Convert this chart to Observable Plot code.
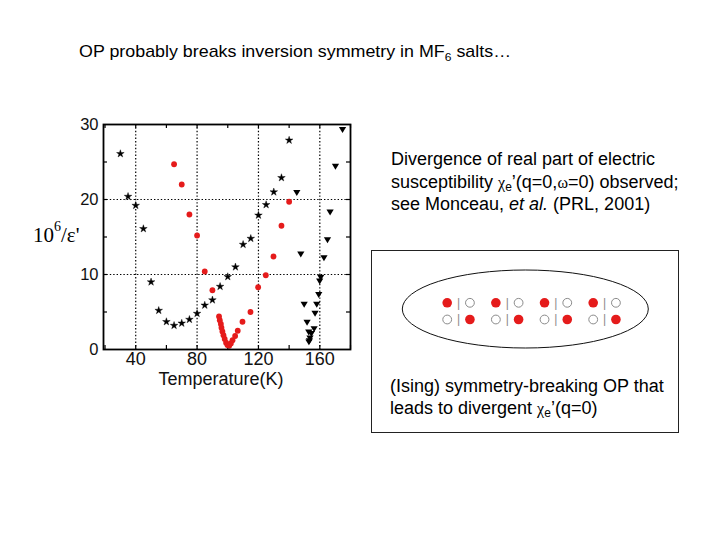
<!DOCTYPE html>
<html>
<head>
<meta charset="utf-8">
<script src="https://cdn.jsdelivr.net/npm/d3@7"></script>
<script src="https://cdn.jsdelivr.net/npm/@observablehq/plot@0.6"></script>
<style>
  html, body { margin: 0; padding: 0; background: #fff; }
  #page { position: relative; width: 720px; height: 540px; overflow: hidden; background: #fff;
          font-family: "Liberation Sans", Arial, sans-serif; }
  #page > svg { position: absolute; }
</style>
</head>
<body>
<div id="page"></div>
<script>
// ---- Temperature scans of 10^6/ε' ----
// black stars
const starT = [30, 35, 40, 45, 50, 55, 60, 65, 70, 75, 80, 85, 90, 95, 100, 105, 110, 115, 120, 125, 130, 135, 140];
const starV = [26.1, 20.4, 19.2, 16.1, 9.0, 5.2, 3.7, 3.2, 3.5, 4.0, 4.8, 5.9, 6.6, 8.4, 9.7, 11.0, 14.0, 14.8, 17.9, 19.3, 21.0, 22.9, 27.9];
// red circles
const circT = [65, 70, 75, 80, 85, 90, 94.3, 94.8, 95.5, 95.9, 96.5, 97.2, 98.0, 98.9, 99.8, 100.9, 102.0, 103.1, 104.8, 106.5, 109.6, 114.8, 119.8, 124.8, 129.8, 135, 140];
const circV = [24.7, 22.0, 18.0, 15.2, 10.4, 7.9, 4.4, 3.9, 3.4, 2.9, 2.4, 1.9, 1.4, 0.9, 0.6, 0.5, 0.8, 1.25, 1.8, 2.5, 3.7, 5.0, 8.3, 9.9, 12.4, 16.5, 19.7];
// black down-triangles
const triT = [174.8, 170.2, 145.0, 166.7, 165.0, 147.6, 162.7, 160.6, 159.9, 159.3, 149.8, 158.0, 156.9, 151.7, 156.3, 152.8, 154.5, 153.6, 153.2, 152.9];
const triV = [29.4, 24.5, 21.0, 18.4, 14.7, 12.8, 12.3, 9.7, 9.2, 7.4, 6.1, 6.1, 4.9, 3.7, 2.85, 2.4, 2.2, 1.6, 1.25, 1.07];

// axes
const xTickValues = [40, 80, 120, 160];
const yTickValues = [0, 10, 20, 30];
const xGridValues = [40, 80, 120, 160];
const yGridValues = [10, 20];
const xMinorTicks = [20, 40, 60, 80, 100, 120, 140, 160, 180];
const yMinorTicks = [5, 10, 15, 20, 25];
const xLabel = "Temperature(K)";

// ---- dimer schematic: each row is a chain of 4 pairs; each pair has a left and right site ----
const pairIndex = [0, 1, 2, 3];
const topRowSites = ["filled", "open"];
const bottomRowSites = ["open", "filled"];

const RED = "#e51b1b";

const rows = (T, V) => T.map((t, i) => ({t, v: V[i]}));
const stars = rows(starT, starV);
const circles = rows(circT, circV);
const tris = rows(triT, triV);

// downward-pointing triangle symbol
const triangleDown = {
  draw(context, size) {
    const s = Math.sqrt(size);
    const w = 0.68 * s, h = 1.1 * s;
    context.moveTo(-w, -h / 3);
    context.lineTo(w, -h / 3);
    context.lineTo(0, 2 * h / 3);
    context.closePath();
  }
};

const page = document.getElementById("page");

const chart = Plot.plot({
  width: 350,
  height: 300,
  marginLeft: 83,
  marginRight: 20,
  marginTop: 24,
  marginBottom: 51,
  x: {domain: [19, 180]},
  y: {domain: [0, 30]},
  style: {fontFamily: "'Liberation Sans', Arial, sans-serif", fontSize: "18px", color: "#111", background: "transparent", overflow: "visible"},
  marks: [
    Plot.gridX(xGridValues, {stroke: "#000", strokeOpacity: 1, strokeWidth: 1.2, strokeDasharray: "1.4,2"}),
    Plot.gridY(yGridValues, {stroke: "#000", strokeOpacity: 1, strokeWidth: 1.2, strokeDasharray: "1.4,2"}),
    // inward ticks on all four sides
    Plot.ruleX(xMinorTicks, {stroke: "#000", strokeWidth: 1.2, insetTop: 221}),
    Plot.ruleX(xMinorTicks, {stroke: "#000", strokeWidth: 1.2, insetBottom: 221}),
    Plot.ruleY(yMinorTicks, {stroke: "#000", strokeWidth: 1.2, insetRight: 243}),
    Plot.ruleY(yMinorTicks, {stroke: "#000", strokeWidth: 1.2, insetLeft: 243}),
    Plot.dot(stars, {x: "t", y: "v", symbol: "star", r: 2.4, fill: "#000", stroke: "#000", strokeWidth: 0.4}),
    Plot.dot(circles, {x: "t", y: "v", r: 2.9, fill: RED, stroke: "none"}),
    Plot.dot(tris, {x: "t", y: "v", symbol: triangleDown, r: 3, fill: "#000", stroke: "none"}),
    Plot.frame({stroke: "#000", strokeWidth: 1.8}),
    Plot.axisX(xTickValues, {tickSize: 0, tickPadding: 3, label: null, fontSize: 18}),
    Plot.axisY(yTickValues, {tickSize: 0, tickPadding: 5, label: null, fontSize: 16.5}),
    Plot.text([xLabel], {text: d => d, frameAnchor: "bottom", lineAnchor: "middle", dy: 30, dx: -6, fontSize: 18})
  ]
});
chart.style.left = "20px";
chart.style.top = "100px";
page.appendChild(chart);

// schematic box
const sites = [];
for (const p of pairIndex) {
  topRowSites.forEach((state, side) => sites.push({pair: p, side, row: 0, state}));
  bottomRowSites.forEach((state, side) => sites.push({pair: p, side, row: 1, state}));
}
const bars = pairIndex.flatMap(p => [{pair: p, row: 0}, {pair: p, row: 1}]);
const siteX = d => d.pair + d.side * 0.467;

const schematic = Plot.plot({
  width: 306,
  height: 181,
  margin: 0,
  x: {domain: [0, 3], range: [74.7, 220.7], axis: null},
  y: {domain: [0, 1], range: [51.3, 68], axis: null},
  style: {background: "#fff", overflow: "visible"},
  marks: [
    () => {
      const e = d3.create("svg:ellipse")
        .attr("cx", 153.3).attr("cy", 58).attr("rx", 123).attr("ry", 39)
        .attr("fill", "none").attr("stroke", "#111").attr("stroke-width", 1);
      return e.node();
    },
    Plot.text(bars, {x: d => d.pair + 0.2335, y: "row", text: () => "|", fill: "#8a8a8a", fontSize: 12, fontFamily: "'Liberation Sans', Arial"}),
    Plot.dot(sites.filter(d => d.state === "open"), {x: siteX, y: "row", r: 4.4, fill: "#fff", stroke: "#8a8a8a", strokeWidth: 1}),
    Plot.dot(sites.filter(d => d.state === "filled"), {x: siteX, y: "row", r: 4.8, fill: RED, stroke: "none"})
  ]
});
schematic.style.left = "371px";
schematic.style.top = "250px";
schematic.style.border = "1px solid #222";
page.appendChild(schematic);

// annotation text
const overlay = d3.create("svg").attr("width", 720).attr("height", 540)
  .style("left", "0px").style("top", "0px").style("pointer-events", "none")
  .attr("font-family", "'Liberation Sans', Arial, sans-serif").attr("fill", "#000");

// heading
const title = overlay.append("text").attr("x", 79).attr("y", 56.5).attr("font-size", 17)
  .attr("textLength", 432).attr("lengthAdjust", "spacingAndGlyphs");
title.append("tspan").text("OP probably breaks inversion symmetry in MF");
title.append("tspan").attr("font-size", 11.5).attr("dy", 4).text("6");
title.append("tspan").attr("dy", -4).text(" salts\u2026");

// y-axis label 10^6/ε'
const ylab = overlay.append("text").attr("x", 33).attr("y", 242).attr("font-size", 21)
  .attr("font-family", "'Liberation Serif', 'Times New Roman', serif");
ylab.append("tspan").text("10");
ylab.append("tspan").attr("font-size", 14).attr("dy", -11).text("6");
ylab.append("tspan").attr("dy", 11).text("/\u03b5'");

const chi = (t) => {
  t.append("tspan").attr("font-family", "'Liberation Serif', 'DejaVu Serif', serif").attr("font-size", 16).text("\u03c7");
  t.append("tspan").attr("font-size", 12).attr("dy", 3).text("e");
  return t;
};

// right-hand note
const fs = 18;
const l1 = overlay.append("text").attr("x", 391).attr("y", 165).attr("font-size", fs);
l1.text("Divergence of real part of electric");
const l2 = overlay.append("text").attr("x", 391).attr("y", 187.5).attr("font-size", fs);
l2.append("tspan").text("susceptibility ");
chi(l2);
l2.append("tspan").attr("dy", -3).text("\u2019(q=0,");
l2.append("tspan").attr("font-family", "'Liberation Serif', 'DejaVu Serif', serif").attr("font-size", 16).text("\u03c9");
l2.append("tspan").text("=0) observed;");
const l3 = overlay.append("text").attr("x", 391).attr("y", 210).attr("font-size", fs);
l3.append("tspan").text("see Monceau, ");
l3.append("tspan").attr("font-style", "italic").text("et al.");
l3.append("tspan").text(" (PRL, 2001)");

// box caption
const b1 = overlay.append("text").attr("x", 390).attr("y", 391.7).attr("font-size", fs);
b1.text("(Ising) symmetry-breaking OP that");
const b2 = overlay.append("text").attr("x", 390).attr("y", 414).attr("font-size", fs);
b2.append("tspan").text("leads to divergent ");
chi(b2);
b2.append("tspan").attr("dy", -3).text("\u2019(q=0)");

page.appendChild(overlay.node());
</script>
</body>
</html>
